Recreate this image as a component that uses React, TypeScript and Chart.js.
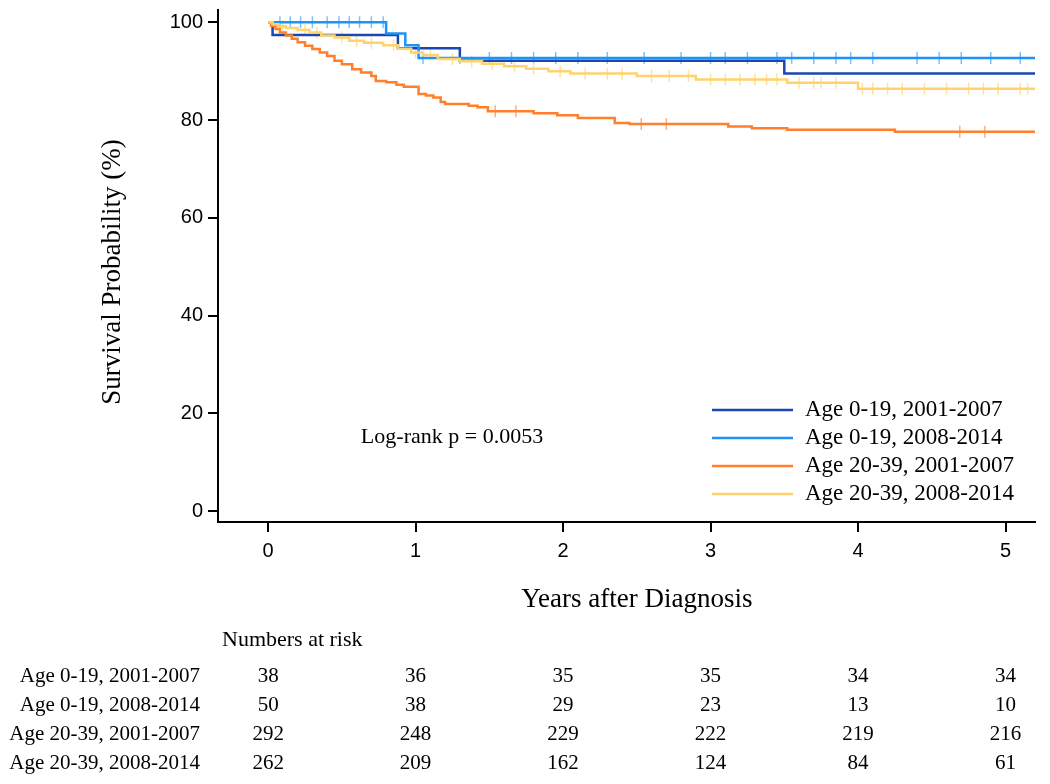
import React, { useEffect, useRef } from "react";
import { Chart, registerables } from "chart.js";
Chart.register(...registerables);

const seriesNames = [
  "Age 0-19, 2001-2007",
  "Age 0-19, 2008-2014",
  "Age 20-39, 2001-2007",
  "Age 20-39, 2008-2014",
];
const lineColors = ["#1a47b0", "#1e93f5", "#ff7f2a", "#ffd36b"];
const censorColors = ["#6f8fd6", "#7cc2ff", "#ffae78", "#ffe29f"];

// Kaplan-Meier step points (time in years, survival in %)
const g1Times = [0, 0.03, 0.88, 1.3, 3.5];
const g1Surv = [100, 97.4, 94.7, 92.1, 89.5];

const g2Times = [0, 0.8, 0.93, 1.02];
const g2Surv = [100, 97.7, 95.3, 92.7];

const g3Times = [0, 0.02, 0.05, 0.08, 0.12, 0.16, 0.2, 0.25, 0.3, 0.35, 0.4, 0.45, 0.5, 0.57, 0.63, 0.7, 0.73, 0.8, 0.87, 0.92, 1.02, 1.07, 1.12, 1.17, 1.2, 1.36, 1.42, 1.49, 1.8, 1.96, 2.1, 2.35, 2.45, 3.12, 3.28, 3.52, 4.25];
const g3Surv = [100, 99.3, 98.6, 97.9, 97.3, 96.6, 95.9, 95.2, 94.5, 93.8, 93.1, 92.1, 91.4, 90.4, 89.7, 89.0, 88.0, 87.7, 87.2, 86.8, 85.3, 85.0, 84.6, 83.7, 83.3, 82.9, 82.6, 81.8, 81.4, 81.0, 80.4, 79.4, 79.2, 78.7, 78.3, 78.0, 77.6];

const g4Times = [0, 0.03, 0.07, 0.12, 0.2, 0.28, 0.36, 0.45, 0.55, 0.65, 0.78, 0.88, 0.97, 1.05, 1.15, 1.3, 1.45, 1.6, 1.75, 1.9, 2.05, 2.5, 2.9, 3.52, 4.0];
const g4Surv = [100, 99.6, 99.2, 98.8, 98.4, 97.9, 97.3, 96.9, 96.2, 95.8, 95.3, 94.6, 93.8, 93.3, 92.5, 92.0, 91.5, 91.0, 90.5, 90.0, 89.5, 89.0, 88.3, 87.6, 86.4];

// censoring times
const g1Censor: number[] = [];
const g2Censor = [0.08, 0.15, 0.22, 0.3, 0.4, 0.48, 0.55, 0.62, 0.7, 0.78, 1.05, 1.3, 1.5, 1.65, 1.8, 1.95, 2.1, 2.3, 2.55, 2.8, 3.0, 3.1, 3.25, 3.45, 3.55, 3.7, 3.85, 3.95, 4.1, 4.4, 4.55, 4.7, 4.9, 5.1];
const g3Censor = [1.54, 1.68, 2.53, 2.7, 4.69, 4.86];
const g4Censor = [0.1, 0.25, 0.33, 0.5, 0.6, 0.7, 0.85, 1.0, 1.1, 1.25, 1.38, 1.52, 1.67, 1.8, 1.98, 2.15, 2.3, 2.4, 2.6, 2.72, 2.85, 3.0, 3.1, 3.2, 3.3, 3.38, 3.45, 3.6, 3.7, 3.75, 3.85, 4.03, 4.1, 4.2, 4.3, 4.45, 4.6, 4.75, 4.85, 4.95, 5.1, 5.15];

const xTickValues = [0, 1, 2, 3, 4, 5];
const yTickValues = [0, 20, 40, 60, 80, 100];

const riskTimes = [0, 1, 2, 3, 4, 5];
const risk1 = [38, 36, 35, 35, 34, 34];
const risk2 = [50, 38, 29, 23, 13, 10];
const risk3 = [292, 248, 229, 222, 219, 216];
const risk4 = [262, 209, 162, 124, 84, 61];

const X_MIN = -0.34;
const X_MAX = 5.2;
const Y_MIN = -2.2;
const Y_MAX = 102.5;

function survAt(times: number[], surv: number[], t: number) {
  let v = surv[0];
  for (let i = 0; i < times.length; i++) if (times[i] <= t) v = surv[i];
  return v;
}

function stepData(times: number[], surv: number[]) {
  const d = times.map((t, i) => ({ x: t, y: surv[i] }));
  d.push({ x: X_MAX, y: surv[surv.length - 1] });
  return d;
}

function censorData(times: number[], surv: number[], c: number[]) {
  return c.map((t) => ({ x: t, y: survAt(times, surv, t) }));
}

const SERIF = "'Liberation Serif', 'Times New Roman', serif";
const SANS = "'Liberation Sans', Arial, sans-serif";

export default function App() {
  const ref = useRef<HTMLCanvasElement | null>(null);
  useEffect(() => {
    document.body.style.margin = "0";
    const all = [
      [g1Times, g1Surv, g1Censor],
      [g2Times, g2Surv, g2Censor],
      [g3Times, g3Surv, g3Censor],
      [g4Times, g4Surv, g4Censor],
    ] as [number[], number[], number[]][];

    const datasets: any[] = [];
    all.forEach(([t, s, c], i) => {
      datasets.push({
        type: "scatter",
        label: seriesNames[i] + " censored",
        data: censorData(t, s, c),
        pointStyle: "line",
        rotation: 90,
        radius: 6,
        borderWidth: 1.5,
        borderColor: censorColors[i],
        backgroundColor: censorColors[i],
        showLine: false,
        order: 10 - i,
      });
    });
    all.forEach(([t, s], i) => {
      datasets.push({
        type: "line",
        label: seriesNames[i],
        data: stepData(t, s),
        stepped: true,
        borderColor: lineColors[i],
        borderWidth: 2.5,
        pointRadius: 0,
        fill: false,
        order: 5 - i,
      });
    });

    const textPlugin = {
      id: "texts",
      afterDraw(chart: any) {
        const ctx = chart.ctx;
        const xs = chart.scales.x;
        ctx.save();
        ctx.fillStyle = "#000";
        // y title
        ctx.font = `27px ${SERIF}`;
        ctx.textAlign = "center";
        ctx.textBaseline = "middle";
        ctx.save();
        ctx.translate(113, 272);
        ctx.rotate(-Math.PI / 2);
        ctx.fillText("Survival Probability (%)", 0, 0);
        ctx.restore();
        // x title
        ctx.fillText("Years after Diagnosis", xs.getPixelForValue(2.5), 600);
        // log-rank
        ctx.font = `22px ${SERIF}`;
        ctx.fillText("Log-rank p = 0.0053", 452, 437);
        // legend
        ctx.font = `23px ${SERIF}`;
        const legY = [410, 438, 466, 494];
        seriesNames.forEach((n, i) => {
          ctx.strokeStyle = lineColors[i];
          ctx.lineWidth = 2.5;
          ctx.beginPath();
          ctx.moveTo(712, legY[i]);
          ctx.lineTo(793, legY[i]);
          ctx.stroke();
          ctx.textAlign = "left";
          ctx.fillText(n, 805, legY[i]);
        });
        // risk table
        ctx.font = `22px ${SERIF}`;
        ctx.textAlign = "left";
        ctx.fillText("Numbers at risk", 222, 640);
        ctx.font = `21px ${SERIF}`;
        const rows = [risk1, risk2, risk3, risk4];
        const rowY = [676, 705, 734, 763];
        rows.forEach((r, i) => {
          ctx.textAlign = "right";
          ctx.fillText(seriesNames[i], 200, rowY[i]);
          ctx.textAlign = "center";
          r.forEach((v, j) => {
            ctx.fillText(String(v), xs.getPixelForValue(riskTimes[j]), rowY[i]);
          });
        });
        ctx.restore();
      },
    };

    const chart = new Chart(ref.current!, {
      type: "line",
      data: { datasets },
      options: {
        animation: false,
        responsive: false,
        layout: { padding: { top: 10, right: 15, left: 0, bottom: 0 } },
        plugins: { legend: { display: false }, tooltip: { enabled: false } },
        scales: {
          x: {
            type: "linear",
            min: X_MIN,
            max: X_MAX,
            afterBuildTicks: (s: any) => {
              s.ticks = xTickValues.map((v) => ({ value: v }));
            },
            afterFit: (s: any) => {
              s.height = 262;
              s.paddingLeft = 0;
              s.paddingRight = 0;
            },
            grid: { display: true, drawOnChartArea: false, drawTicks: true, tickLength: 10, color: "#000", lineWidth: 2 },
            border: { display: true, color: "#000", width: 2 },
            ticks: { color: "#000", font: { family: SANS, size: 20 }, padding: 7, maxRotation: 0 },
          },
          y: {
            type: "linear",
            min: Y_MIN,
            max: Y_MAX,
            afterBuildTicks: (s: any) => {
              s.ticks = yTickValues.map((v) => ({ value: v }));
            },
            afterFit: (s: any) => {
              s.width = 218;
              s.paddingTop = 0;
              s.paddingBottom = 0;
            },
            grid: { display: true, drawOnChartArea: false, drawTicks: true, tickLength: 10, color: "#000", lineWidth: 2 },
            border: { display: true, color: "#000", width: 2 },
            ticks: { color: "#000", font: { family: SANS, size: 20 }, padding: 5 },
          },
        },
      },
      plugins: [textPlugin],
    });
    return () => chart.destroy();
  }, []);
  return <canvas ref={ref} width={1050} height={784} style={{ display: "block" }} />;
}
